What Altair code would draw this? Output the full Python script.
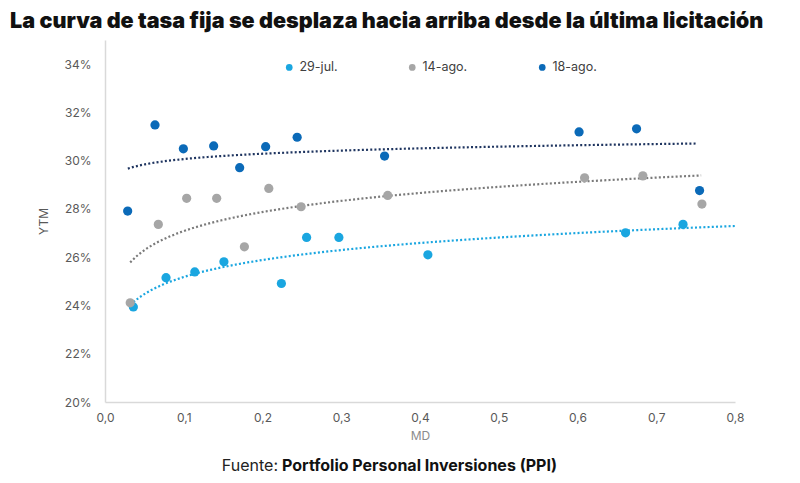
import altair as alt
import pandas as pd

series_names = ["29-jul.", "14-ago.", "18-ago."]
series_colors = ["#1AA6E0", "#A6A6A6", "#0B6AB8"]
trend_colors = ["#1AA6E0", "#7A7A7A", "#1F3560"]
trend_extents = [[0.036, 0.80], [0.032, 0.757], [0.029, 0.752]]

md_jul29 = [0.036, 0.0775, 0.114, 0.151, 0.224, 0.256, 0.297, 0.410, 0.661, 0.734]
ytm_jul29 = [0.2394, 0.2515, 0.2539, 0.2581, 0.2491, 0.2682, 0.2682, 0.2610, 0.2701, 0.2736]

md_ago14 = [0.032, 0.0677, 0.1037, 0.1418, 0.177, 0.208, 0.249, 0.359, 0.609, 0.683, 0.758]
ytm_ago14 = [0.2411, 0.2736, 0.2844, 0.2844, 0.2643, 0.2885, 0.2809, 0.2856, 0.2929, 0.2937, 0.2820]

md_ago18 = [0.0288, 0.0635, 0.0995, 0.138, 0.171, 0.204, 0.244, 0.355, 0.602, 0.675, 0.755]
ytm_ago18 = [0.2791, 0.3148, 0.3049, 0.3061, 0.2971, 0.3058, 0.3097, 0.3019, 0.3119, 0.3132, 0.2876]

y_ticks = [0.20, 0.22, 0.24, 0.26, 0.28, 0.30, 0.32, 0.34]
x_ticks = [0.0, 0.1, 0.2, 0.3, 0.4, 0.5, 0.6, 0.7, 0.8]

title_text = "La curva de tasa fija se desplaza hacia arriba desde la última licitación"
source_label = "Fuente:"
source_name = "Portfolio Personal Inversiones (PPI)"

frames = []
for name, mds, ytms in [
    (series_names[0], md_jul29, ytm_jul29),
    (series_names[1], md_ago14, ytm_ago14),
    (series_names[2], md_ago18, ytm_ago18),
]:
    frames.append(pd.DataFrame({"serie": name, "MD": mds, "YTM": ytms}))
df = pd.concat(frames, ignore_index=True)

FONT = "Inter"

x_enc = alt.X(
    "MD:Q",
    scale=alt.Scale(domain=[0, 0.8], nice=False),
    axis=alt.Axis(
        values=x_ticks,
        labelExpr="replace(format(datum.value, '.1f'), '.', ',')",
        title="MD",
        grid=False,
        ticks=False,
        labelFlush=False,
        domainColor="#D9D9D9",
        domainWidth=1.5,
        labelColor="#595959",
        labelFontSize=12,
        labelPadding=10,
        titleColor="#8C8C8C",
        titleFontSize=12,
        titleFontWeight="normal",
        titlePadding=7,
    ),
)
y_enc = alt.Y(
    "YTM:Q",
    scale=alt.Scale(domain=[0.20, 0.35], nice=False, zero=False),
    axis=alt.Axis(
        values=y_ticks,
        format=".0%",
        title="YTM",
        grid=False,
        ticks=False,
        labelFlush=False,
        domainColor="#D9D9D9",
        domainWidth=1.5,
        labelColor="#595959",
        labelFontSize=12,
        labelPadding=14,
        titleColor="#595959",
        titleFontSize=12,
        titleFontWeight="normal",
        titlePadding=14,
    ),
)

trend_layers = []
for name, col, ext in zip(series_names, trend_colors, trend_extents):
    trend_layers.append(
        alt.Chart(df)
        .transform_filter(alt.datum.serie == name)
        .transform_regression("MD", "YTM", method="log", extent=ext)
        .mark_line(strokeDash=[2, 2.2], strokeWidth=2.2, color=col)
        .encode(x=x_enc, y=y_enc)
    )

points = (
    alt.Chart(df)
    .mark_circle(size=85, opacity=1)
    .encode(
        x=x_enc,
        y=y_enc,
        color=alt.Color(
            "serie:N",
            scale=alt.Scale(domain=series_names, range=series_colors),
            sort=series_names,
            legend=alt.Legend(
                title=None,
                orient="none",
                direction="horizontal",
                legendX=178,
                legendY=21,
                symbolType="circle",
                symbolSize=45,
                labelFontSize=12.5,
                labelColor="#404040",
                labelFont=FONT,
                columnPadding=68,
                labelOffset=4,
            ),
        ),
    )
)

title_df = pd.DataFrame({"t": [title_text]})
title_mark = alt.Chart(title_df).mark_text(
    align="left", baseline="alphabetic", fontSize=21.6, fontWeight=900, font=FONT, color="#111111"
).encode(x=alt.value(-95), y=alt.value(-12), text="t:N")

src1 = alt.Chart(pd.DataFrame({"t": [source_label]})).mark_text(
    align="right", baseline="middle", fontSize=16, font=FONT, color="#222222"
).encode(x=alt.value(173), y=alt.value(426), text="t:N")
src2 = alt.Chart(pd.DataFrame({"t": [source_name]})).mark_text(
    align="left", baseline="middle", fontSize=16, fontWeight="bold", font=FONT, color="#111111"
).encode(x=alt.value(177), y=alt.value(426), text="t:N")

chart = (
    alt.layer(*trend_layers, points, title_mark, src1, src2)
    .properties(
        width=630,
        height=362,
        autosize=alt.AutoSizeParams(type="none"),
        padding={"left": 97, "top": 32, "right": 57, "bottom": 73},
        view=alt.ViewBackground(strokeWidth=0, stroke="transparent"),
    )
    .configure_view(strokeWidth=0, stroke="transparent")
    .configure(font=FONT)
)

chart.save("out.html", embed_options={"renderer": "svg", "actions": False})
